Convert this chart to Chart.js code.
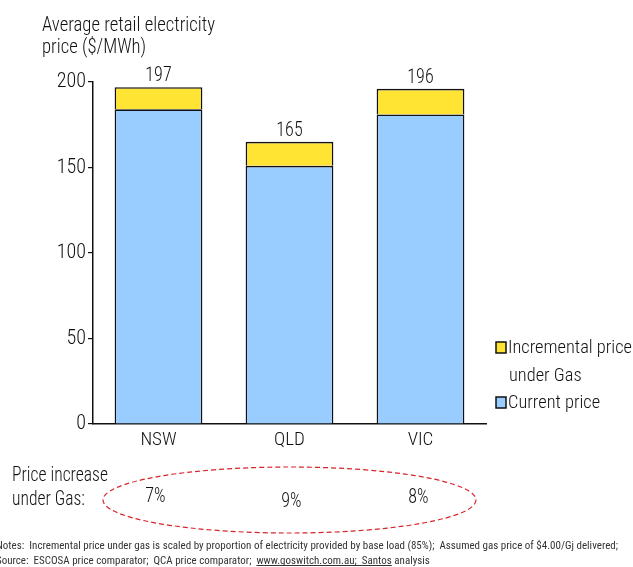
<!DOCTYPE html>
<html>
<head>
<meta charset="utf-8">
<script src="https://cdn.jsdelivr.net/npm/chart.js@4.4.1/dist/chart.umd.min.js"></script>
<style>
  html, body { margin: 0; padding: 0; background: #fff; }
  #wrap { width: 633px; height: 567px; position: relative; }
</style>
</head>
<body>
<div id="wrap"><canvas id="myChart" width="633" height="567"></canvas></div>
<script>
var FONT = '"Roboto Condensed", "Liberation Sans", sans-serif';

// datos del grafico
var states = ['NSW', 'QLD', 'VIC'];
var currentPrice = [184, 151, 181];
var incrementalGas = [13, 14, 15];
var yTicks = [0, 50, 100, 150, 200];

var seriesNames = ['Current price', 'Incremental price\nunder Gas'];
var titleLines = ['Average retail electricity', 'price ($/MWh)'];
var increaseLabel = ['Price increase', 'under Gas:'];
var notes = [
    'Notes:  Incremental price under gas is scaled by proportion of electricity provided by base load (85%);  Assumed gas price of $4.00/Gj delivered;',
    'Source:  ESCOSA price comparator;  QCA price comparator;  '
];
var notesLink = 'www.goswitch.com.au;  Santos';
var notesTail = ' analysis';

var BLUE = '#99ccff';
var YELLOW = '#ffe433';

// texto angosto: escala horizontal sx
function narrow(ctx, str, x, y, sx) {
    ctx.save();
    ctx.translate(x, y);
    ctx.scale(sx, 1);
    ctx.fillText(str, 0, 0);
    ctx.restore();
}

// textos extra: titulo, totales, porcentajes, elipse, leyenda y notas
var extras = {
    id: 'extras',
    afterDraw: function (chart) {
        var ctx = chart.ctx;
        var x = chart.scales.x;
        var y = chart.scales.y;
        ctx.save();
        ctx.fillStyle = '#111';
        ctx.textBaseline = 'alphabetic';

        // titulo del eje
        ctx.font = '300 20px ' + FONT;
        ctx.textAlign = 'left';
        var sx = 173 / ctx.measureText(titleLines[0]).width;
        narrow(ctx, titleLines[0], 42, 31, sx);
        narrow(ctx, titleLines[1], 42, 53, sx);

        // totales arriba de cada barra
        ctx.textAlign = 'center';
        for (var i = 0; i < states.length; i++) {
            var total = currentPrice[i] + incrementalGas[i];
            narrow(ctx, String(total), x.getPixelForValue(i), y.getPixelForValue(total) - 6, 0.9);
        }

        // incremento en porcentaje
        ctx.textAlign = 'left';
        var sx2 = 96 / ctx.measureText(increaseLabel[0]).width;
        narrow(ctx, increaseLabel[0], 12, 481, sx2);
        narrow(ctx, increaseLabel[1], 12, 505, sx2);
        ctx.textAlign = 'center';
        var pctY = [502, 507, 503];
        var pctDx = [-3, 2, -2];
        for (var j = 0; j < states.length; j++) {
            var pct = Math.round(incrementalGas[j] / currentPrice[j] * 100);
            narrow(ctx, pct + '%', x.getPixelForValue(j) + pctDx[j], pctY[j], 0.9);
        }

        // elipse punteada
        ctx.beginPath();
        ctx.ellipse(x.getPixelForValue(1), 500, 186.5, 33, 0, 0, Math.PI * 2);
        ctx.setLineDash([5, 3]);
        ctx.strokeStyle = '#d8242b';
        ctx.lineWidth = 1.2;
        ctx.stroke();
        ctx.setLineDash([]);

        // leyenda
        var ds = chart.data.datasets;
        var legend = [
            { color: ds[1].backgroundColor, lines: seriesNames[1].split('\n'), y: 342 },
            { color: ds[0].backgroundColor, lines: seriesNames[0].split('\n'), y: 397 }
        ];
        ctx.font = '300 18px ' + FONT;
        ctx.textAlign = 'left';
        var sx3 = 124 / ctx.measureText(seriesNames[1].split('\n')[0]).width;
        legend.forEach(function (item) {
            ctx.fillStyle = item.color;
            ctx.fillRect(496, item.y, 10, 11);
            ctx.strokeStyle = '#111';
            ctx.lineWidth = 1.5;
            ctx.strokeRect(496, item.y, 10, 11);
            ctx.fillStyle = '#111';
            item.lines.forEach(function (t, k) {
                narrow(ctx, t, k === 0 ? 508 : 509, item.y + 10.5 + k * 28.5, sx3);
            });
        });

        // notas al pie
        ctx.font = '11.5px ' + FONT;
        ctx.fillStyle = '#333';
        var sx4 = 622 / ctx.measureText(notes[0]).width;
        narrow(ctx, notes[0], -4, 549, sx4);
        narrow(ctx, notes[1], -4, 563.5, sx4);
        var lx = -4 + ctx.measureText(notes[1]).width * sx4;
        var lw = ctx.measureText(notesLink).width * sx4;
        narrow(ctx, notesLink, lx, 563.5, sx4);
        ctx.fillRect(lx, 565, lw, 1);
        narrow(ctx, notesTail, lx + lw, 563.5, sx4);

        ctx.restore();
    }
};

var ctx = document.getElementById('myChart').getContext('2d');
var chart = new Chart(ctx, {
    type: 'bar',
    data: {
        labels: states,
        datasets: [{
            label: seriesNames[0],
            data: currentPrice,
            backgroundColor: BLUE,
            borderColor: '#111',
            borderWidth: 1.6
        }, {
            label: seriesNames[1],
            data: incrementalGas,
            backgroundColor: YELLOW,
            borderColor: '#111',
            borderWidth: 1.6
        }]
    },
    options: {
        responsive: false,
        animation: false,
        devicePixelRatio: 1,
        layout: { padding: { left: 0, top: 82, right: 147, bottom: 113 } },
        datasets: { bar: { barPercentage: 0.67, categoryPercentage: 1, borderSkipped: 'start' } },
        plugins: {
            legend: { display: false },
            tooltip: { enabled: false }
        },
        scales: {
            x: {
                stacked: true,
                grid: { display: false, drawTicks: false },
                border: { display: true, color: '#111', width: 1.5 },
                ticks: { color: '#111', font: { family: FONT, size: 19, weight: 300 }, padding: 5 },
                afterFit: function (s) { s.height = 30; }
            },
            y: {
                stacked: true,
                min: 0,
                max: 200,
                afterBuildTicks: function (s) {
                    s.ticks = yTicks.map(function (v) { return { value: v }; });
                },
                grid: { display: true, drawOnChartArea: false, drawTicks: true, tickLength: 5, color: '#111', lineWidth: 1.2 },
                border: { display: true, color: '#111', width: 1.5 },
                ticks: { color: '#111', font: { family: FONT, size: 20, weight: 300 }, padding: 2 },
                afterFit: function (s) { s.width = 93; }
            }
        }
    },
    plugins: [extras]
});
</script>
</body>
</html>
